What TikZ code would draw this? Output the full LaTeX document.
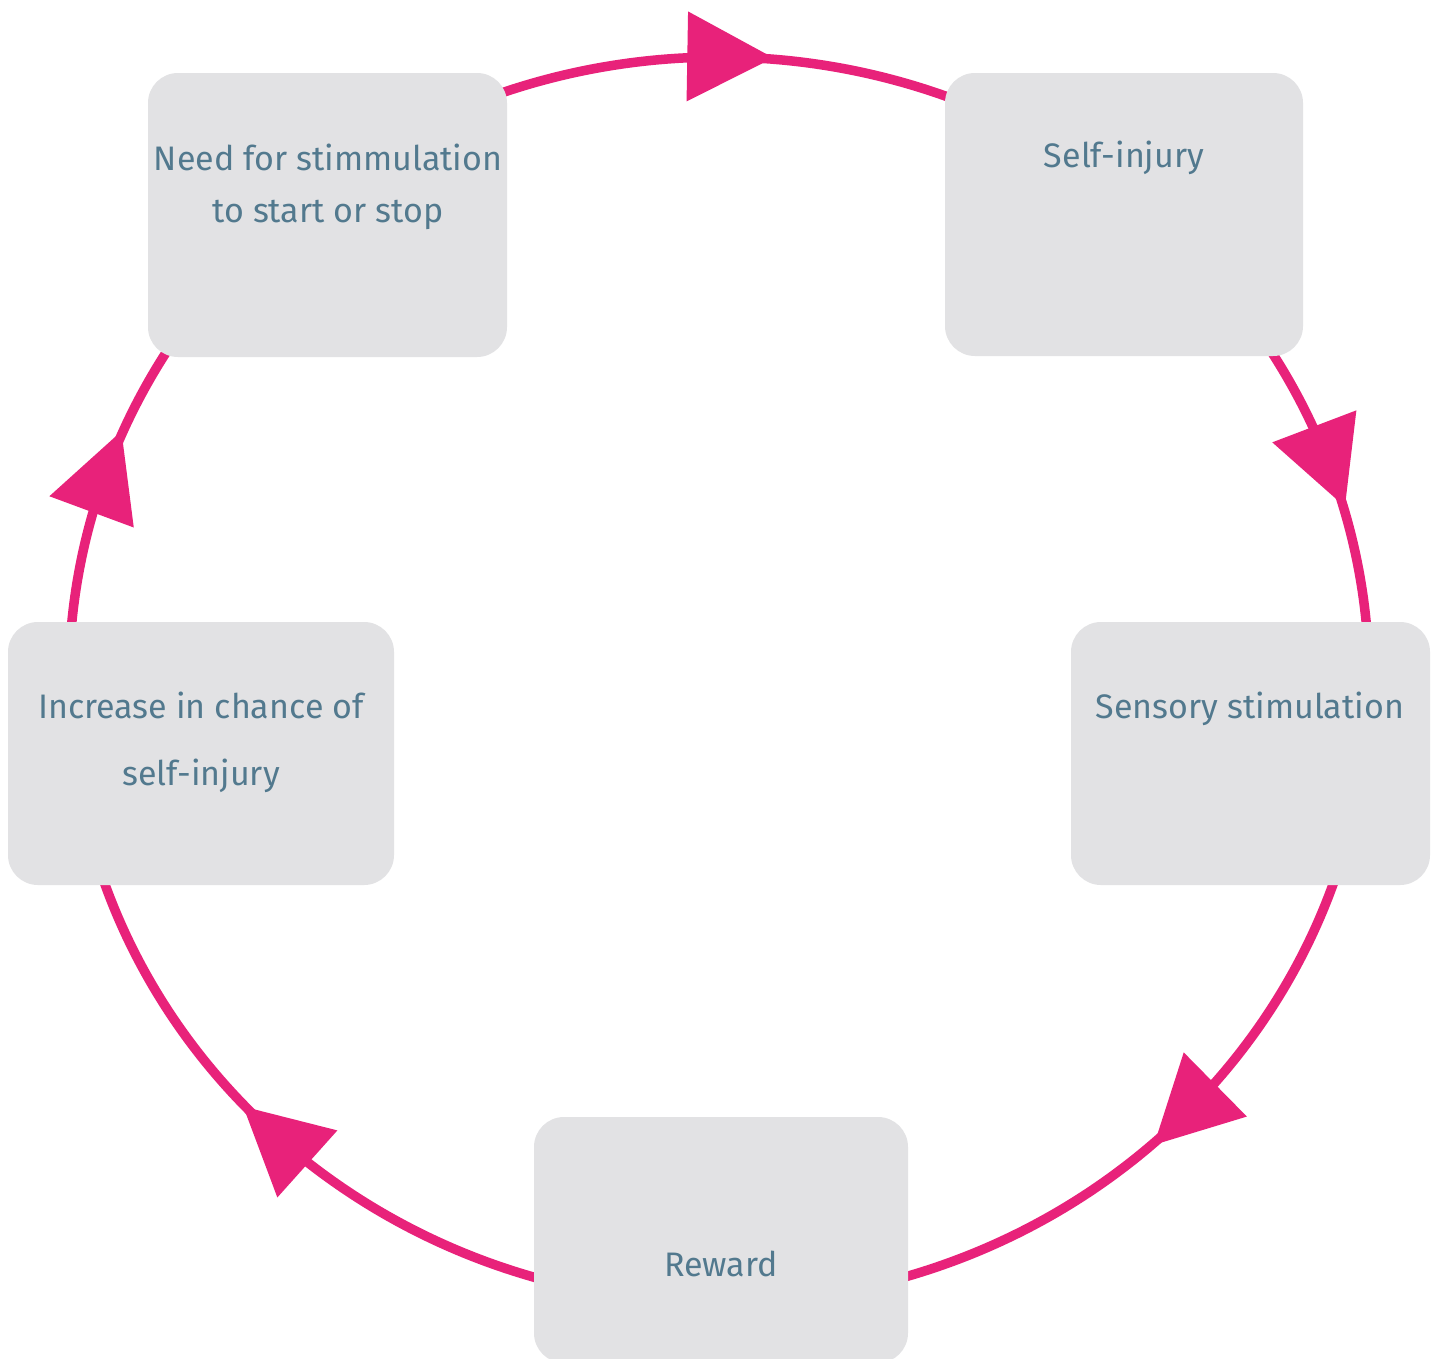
\documentclass[tikz,border=0pt]{standalone}
\usepackage{fontspec}
\setmainfont{Fira Sans}
\usetikzlibrary{decorations.markings,backgrounds}

\definecolor{cyclepink}{RGB}{232,34,122}
\definecolor{boxgray}{RGB}{226,226,228}
\definecolor{labelblue}{RGB}{82,121,142}

\tikzset{
  stepbox/.style={fill=boxgray, draw=none, rounded corners=30pt, inner sep=0pt},
  steptext/.style={text=labelblue, anchor=base, align=center, inner sep=0pt,
    font=\fontsize{34}{52}\selectfont},
  % a flow arc with a filled triangle centred at the given fraction of its length
  flow/.style={draw=cyclepink, line width=9.5pt, postaction={decorate},
    decoration={markings, mark=at position #1 with
      {\fill[cyclepink] (43pt,0pt) -- (-43pt,45pt) -- (-43pt,-45pt) -- cycle;}}},
}

\begin{document}
\begin{tikzpicture}[x=1pt, y=-1pt]
  \useasboundingbox (0,0) rectangle (1435,1358);

  % centre of the cycle
  \coordinate (E) at (719,680);

  % the five steps
  \node[stepbox, minimum width=359pt, minimum height=284pt] (need) at (327.5,215) {};
  \node[stepbox, minimum width=358pt, minimum height=283pt] (selfinj) at (1124,214.5) {};
  \node[stepbox, minimum width=359pt, minimum height=263pt] (sensory) at (1250.5,753.5) {};
  \node[stepbox, minimum width=374pt, minimum height=246pt] (reward) at (721,1240) {};
  \node[stepbox, minimum width=386pt, minimum height=263pt] (increase) at (201,753.5) {};

  % their texts (a multi-line text sits on the baseline of its last line)
  \node[steptext] (needtxt) at (328,222) {Need for stimmulation\\to start or stop};
  \node[steptext] (selfinjtxt) at (1124,167) {Self-injury};
  \node[steptext] (sensorytxt) at (1250,718) {Sensory stimulation};
  \node[steptext] (rewardtxt) at (721,1276) {Reward};
  \node[steptext, font=\fontsize{34}{67}\selectfont] (increasetxt) at (201,785)
    {Increase in chance of\\self-injury};

  % white page, then the arcs of the cycle, running clockwise behind the boxes
  \begin{scope}[on background layer]
    \fill[white] (0,0) rectangle (1435,1358);
    \draw[flow=0.512] ([shift={(-110.3:650 and 623)}]E)
      arc[start angle=-110.3, end angle=-68.7, x radius=650, y radius=623];
    \draw[flow=0.445] ([shift={(-32.5:650 and 623)}]E)
      arc[start angle=-32.5, end angle=-4.4, x radius=650, y radius=623];
    \draw[flow=0.461] ([shift={(18.3:650 and 623)}]E)
      arc[start angle=18.3, end angle=74.0, x radius=650, y radius=623];
    \draw[flow=0.494] ([shift={(105.7:650 and 623)}]E)
      arc[start angle=105.7, end angle=161.6, x radius=650, y radius=623];
    \draw[flow=0.545] ([shift={(184.3:650 and 623)}]E)
      arc[start angle=184.3, end angle=212.2, x radius=650, y radius=623];
  \end{scope}
\end{tikzpicture}
\end{document}
